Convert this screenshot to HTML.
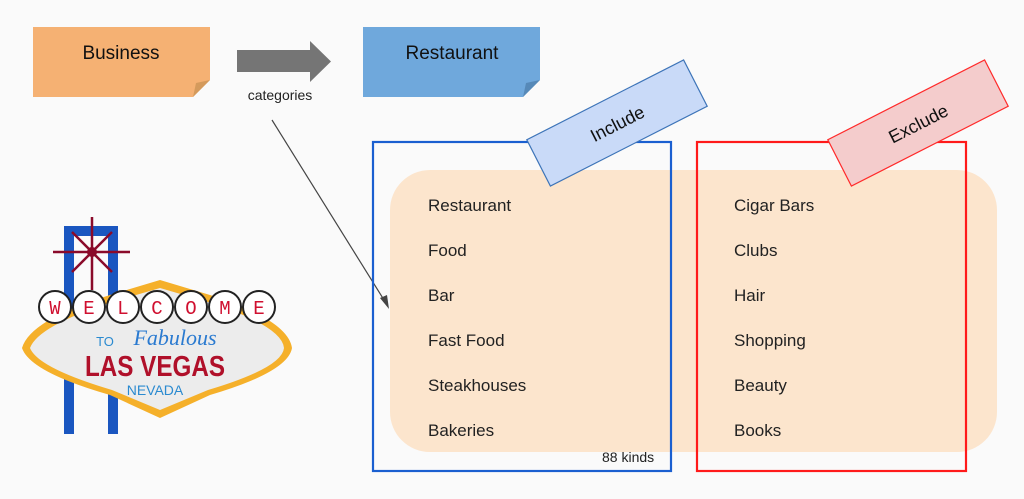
<!DOCTYPE html>
<html><head><meta charset="utf-8"><style>
html,body{margin:0;padding:0;background:#fafafa;}
svg{display:block;font-family:"Liberation Sans",sans-serif;}
</style></head><body>
<svg width="1024" height="499" viewBox="0 0 1024 499" xmlns="http://www.w3.org/2000/svg">
<rect width="1024" height="499" fill="#fafafa"/>
<path d="M33 27H210V80L193 97H33Z" fill="#f5b173"/>
<path d="M193 97L196 83L210 80Z" fill="#d49a5c"/>
<text x="121" y="59" font-size="19" text-anchor="middle" fill="#111">Business</text>
<path d="M363 27H540V80L523 97H363Z" fill="#6fa8dc"/>
<path d="M523 97L526 83L540 80Z" fill="#5689b8"/>
<text x="452" y="59" font-size="19" text-anchor="middle" fill="#111">Restaurant</text>
<path d="M237 50H310V41L331 61.5L310 82V72H237Z" fill="#757575"/>
<text x="280" y="100" font-size="14" text-anchor="middle" fill="#222">categories</text>
<line x1="272" y1="120" x2="384" y2="300" stroke="#444" stroke-width="1.2"/>
<path d="M389 309L380 298L387 295Z" fill="#444"/>
<rect x="390" y="170" width="607" height="282" rx="40" fill="#fce5cd"/>
<rect x="373" y="142" width="298" height="329" fill="none" stroke="#1a5fd0" stroke-width="2.2"/>
<rect x="697" y="142" width="269" height="329" fill="none" stroke="#ff1a1a" stroke-width="2.2"/>
<g transform="translate(617,123) rotate(-27)">
<rect x="-88" y="-26" width="176" height="52" fill="#c9daf8" stroke="#3d74b8" stroke-width="1.2"/>
<text x="0" y="7" font-size="18" text-anchor="middle" fill="#111">Include</text>
</g>
<g transform="translate(918,123) rotate(-27)">
<rect x="-88" y="-26" width="176" height="52" fill="#f4cccc" stroke="#ff2a2a" stroke-width="1.2"/>
<text x="0" y="7" font-size="18" text-anchor="middle" fill="#111">Exclude</text>
</g>
<g font-size="17" fill="#222">
<text x="428" y="211">Restaurant</text>
<text x="428" y="256">Food</text>
<text x="428" y="301">Bar</text>
<text x="428" y="346">Fast Food</text>
<text x="428" y="391">Steakhouses</text>
<text x="428" y="436">Bakeries</text>
<text x="734" y="211">Cigar Bars</text>
<text x="734" y="256">Clubs</text>
<text x="734" y="301">Hair</text>
<text x="734" y="346">Shopping</text>
<text x="734" y="391">Beauty</text>
<text x="734" y="436">Books</text>
</g>
<text x="602" y="462" font-size="14" fill="#222">88 kinds</text>
<path d="M64 434V226H118V434H108V236H74V434Z" fill="#1a56c0"/>
<g stroke="#8a0a2a" stroke-width="2.5">
<line x1="92" y1="217" x2="92" y2="290"/>
<line x1="53" y1="252" x2="130" y2="252"/>
<line x1="72" y1="232" x2="112" y2="272"/>
<line x1="112" y1="232" x2="72" y2="272"/>
</g>
<circle cx="92" cy="252" r="5" fill="#8a0a2a"/>
<path d="M22 348Q30 320 110 295L160 280L210 295Q288 320 292 348Q288 372 210 395L160 418L110 395Q30 372 22 348Z" fill="#f5b02a"/>
<path d="M30 348Q38 326 112 302L160 288L208 302Q282 326 284 348Q282 368 208 390L160 410L112 390Q38 368 30 348Z" fill="#ececec"/>
<g fill="#fff" stroke="#222" stroke-width="2">
<circle cx="55" cy="307" r="16"/><circle cx="89" cy="307" r="16"/><circle cx="123" cy="307" r="16"/><circle cx="157" cy="307" r="16"/><circle cx="191" cy="307" r="16"/><circle cx="225" cy="307" r="16"/><circle cx="259" cy="307" r="16"/>
</g>
<g font-family="'Liberation Mono',monospace" font-size="19" fill="#d01030" text-anchor="middle">
<text x="55" y="314">W</text><text x="89" y="314">E</text><text x="123" y="314">L</text><text x="157" y="314">C</text><text x="191" y="314">O</text><text x="225" y="314">M</text><text x="259" y="314">E</text>
</g>
<text x="105" y="346" font-size="13" fill="#2a8ad0" text-anchor="middle">TO</text>
<text x="175" y="345" font-size="22" fill="#2a7ad0" font-style="italic" font-family="'Liberation Serif',serif" text-anchor="middle">Fabulous</text>
<text x="155" y="376" font-size="29" fill="#b0102a" font-weight="bold" text-anchor="middle" textLength="140" lengthAdjust="spacingAndGlyphs">LAS VEGAS</text>
<text x="155" y="395" font-size="14" fill="#2a8ad0" text-anchor="middle">NEVADA</text>
</svg>
</body></html>
